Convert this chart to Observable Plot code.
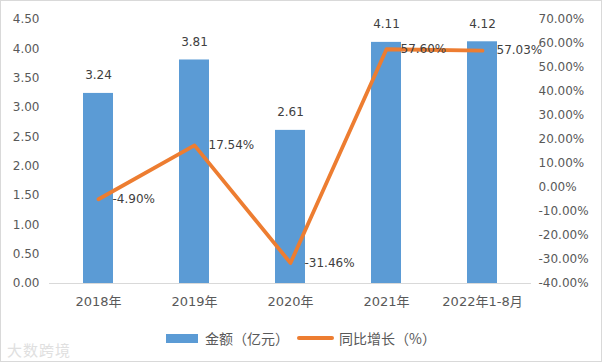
<!DOCTYPE html>
<html><head><meta charset="utf-8">
<script src="https://cdn.jsdelivr.net/npm/d3@7"></script>
<script src="https://cdn.jsdelivr.net/npm/@observablehq/plot@0.6"></script>
<style>
body{margin:0;background:#fff;}
#frame{position:relative;width:600px;height:360px;border:1px solid #d9d9d9;font-family:"DejaVu Sans","Noto Sans CJK SC",sans-serif;overflow:hidden;background:#fff}
#chart svg{display:block}
#legend{position:absolute;left:0;top:327px;width:600px;height:20px;display:flex;justify-content:center;align-items:center;font-size:14px;color:#595959;font-family:"Noto Sans CJK SC",sans-serif}
.sw-bar{display:inline-block;width:32px;height:9px;background:#5B9BD5;margin-right:7px}
.sw-line{display:inline-block;width:37px;height:4px;background:#ED7D31;border-radius:2px;margin:0 5px 0 8px}
#wm{position:absolute;left:6px;top:338px;font-size:15px;color:#e0e0e0;letter-spacing:1px;font-family:"Noto Sans CJK SC",sans-serif}
</style></head><body>
<div id="frame"><div id="chart"></div>
<div id="legend"><span class="sw-bar"></span><span>金额（亿元）</span><span class="sw-line"></span><span>同比增长（%）</span></div>
<div id="wm">大数跨境</div>
</div>
<script>
const categories = ["2018年","2019年","2020年","2021年","2022年1-8月"];
const amounts = [3.24, 3.81, 2.61, 4.11, 4.12];
const growth = [-4.90, 17.54, -31.46, 57.60, 57.03];
const leftTicks = [0, 0.5, 1, 1.5, 2, 2.5, 3, 3.5, 4, 4.5];
const rightTicks = [-40, -30, -20, -10, 0, 10, 20, 30, 40, 50, 60, 70];

const rMin = -40, rMax = 70, lMax = 4.5;
const toLeft = p => (p - rMin) / (rMax - rMin) * lMax;
const toRight = v => v / lMax * (rMax - rMin) + rMin;

const barData = categories.map((c, i) => ({c, v: amounts[i]}));
const lineData = categories.map((c, i) => ({c, g: growth[i], y: toLeft(growth[i])}));

const chart = Plot.plot({
  width: 600, height: 318,
  marginTop: 18, marginBottom: 36, marginLeft: 48, marginRight: 70,
  style: {fontSize: "12px", fontFamily: '"DejaVu Sans","Noto Sans CJK SC",sans-serif', color: "#595959", background: "transparent"},
  x: {domain: categories, padding: 0},
  y: {domain: [0, lMax]},
  marks: [
    Plot.barY(barData, {x: "c", y: "v", fill: "#5B9BD5", insetLeft: 33, insetRight: 33}),
    Plot.ruleY([0], {stroke: "#d9d9d9"}),
    Plot.axisY({anchor: "left", ticks: leftTicks, tickFormat: d => d.toFixed(2), tickSize: 0, tickPadding: 10, label: null}),
    Plot.axisY({anchor: "right", ticks: rightTicks.map(toLeft), tickFormat: d => toRight(d).toFixed(2) + "%", tickSize: 0, tickPadding: 7, textAnchor: "start", label: null}),
    Plot.axisX({tickSize: 0, tickPadding: 13, fontSize: 13, label: null}),
    Plot.text(barData, {x: "c", y: "v", text: d => d.v.toFixed(2), dy: -18, fill: "#404040"}),
    Plot.lineY(lineData, {x: "c", y: "y", stroke: "#ED7D31", strokeWidth: 3.8, strokeLinecap: "round", strokeLinejoin: "round"}),
    Plot.text(lineData, {x: "c", y: "y", text: d => d.g.toFixed(2) + "%", textAnchor: "start", dx: 14, fill: "#404040"})
  ]
});
document.getElementById("chart").appendChild(chart);
</script>
</body></html>
